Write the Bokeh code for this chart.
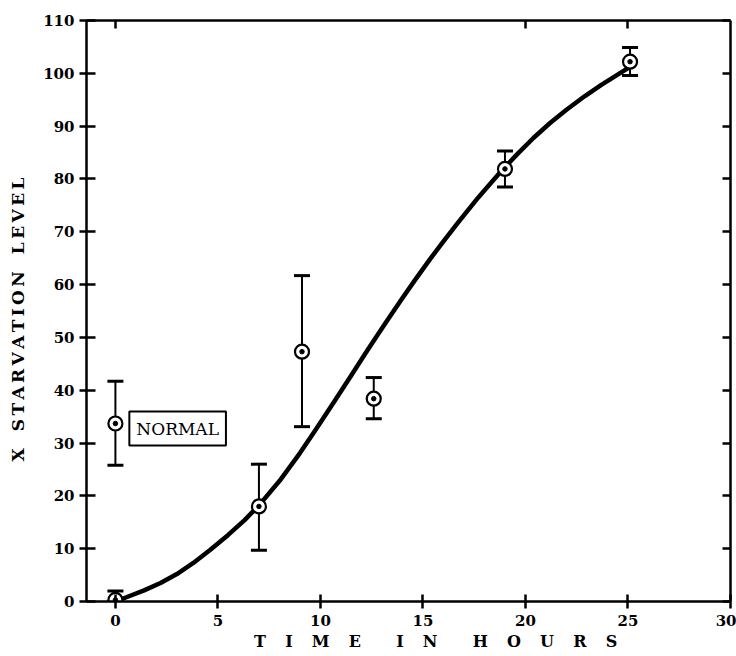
from bokeh.plotting import figure
from bokeh.models import (LinearAxis, FixedTicker, Whisker, ColumnDataSource,
                          Label, Range1d, TeeHead)
from bokeh.embed import file_html
from bokeh.resources import INLINE

# ---- data ----
obs_time = [0.0, 7.0, 9.1, 12.6, 19.0, 25.1]
obs_level = [0.3, 18.0, 47.3, 38.4, 81.9, 102.2]
obs_upper = [2.0, 26.0, 61.7, 42.4, 85.3, 104.9]
obs_lower = [0.0, 9.7, 33.1, 34.6, 78.5, 99.6]

normal_time = [0.0]
normal_level = [33.7]
normal_upper = [41.7]
normal_lower = [25.8]

curve_time = [0.0, 0.6, 1.4, 2.2, 3.0, 3.8, 4.6, 5.5, 6.3, 7.0, 8.0, 9.0, 9.8,
              10.7, 11.5, 12.3, 13.1, 13.9, 14.6, 15.4, 16.0, 16.7, 17.7,
              18.8, 19.6, 20.4, 21.2, 22.0, 22.9, 23.7, 24.4, 25.0]
curve_level = [0.0, 0.9, 2.1, 3.5, 5.2, 7.3, 9.7, 12.6, 15.4, 18.2, 22.8, 28.1,
               32.7, 38.0, 42.8, 47.6, 52.3, 56.9, 60.8, 65.1, 68.2, 71.7, 76.5,
               81.4, 84.7, 87.8, 90.6, 93.1, 95.7, 97.8, 99.5, 101.0]

x_ticks = [0, 5, 10, 15, 20, 25, 30]
y_ticks = [0, 10, 20, 30, 40, 50, 60, 70, 80, 90, 100, 110]
top_ticks = [0, 20, 25]

x_title = "\u2003\u2003\u2003\u2009\u2009T\u2003\u2009I\u2003\u2009M\u2003\u2009E\u2003\u2003\u2009I\u2003\u2009N\u2003\u2003\u2009H\u2003\u2009O\u2003\u2009U\u2003\u2009R\u2003\u2009S"
y_title = "X\u2003S\u2009T\u2009A\u2009R\u2009V\u2009A\u2009T\u2009I\u2009O\u2009N\u2003L\u2009E\u2009V\u2009E\u2009L\u2003"
normal_text = "NORMAL"

FONT = "DejaVu Serif"

p = figure(width=736, height=656, output_backend="svg", toolbar_location=None,
           x_range=Range1d(-1.41, 30), y_range=Range1d(0, 110),
           x_axis_location=None, y_axis_location=None,
           min_border_left=86, min_border_right=6, min_border_top=20,
           min_border_bottom=55)
p.background_fill_color = "white"
p.border_fill_color = "white"
p.outline_line_color = None
p.xgrid.visible = False
p.ygrid.visible = False

AX_W = 2.5


def style_axis(ax):
    ax.axis_line_width = AX_W
    ax.axis_line_color = "black"
    ax.major_tick_line_width = AX_W
    ax.major_tick_line_color = "black"
    ax.minor_tick_line_color = None
    ax.major_label_text_font = FONT
    ax.major_label_text_font_style = "bold"
    ax.major_label_text_font_size = "15px"
    ax.major_label_text_color = "black"
    ax.axis_label_text_font = FONT
    ax.axis_label_text_font_style = "bold"
    ax.axis_label_text_color = "black"


bottom = LinearAxis(ticker=FixedTicker(ticks=x_ticks))
style_axis(bottom)
bottom.major_tick_in = 7
bottom.major_tick_out = 7
bottom.major_label_standoff = 6
bottom.axis_label = x_title
bottom.axis_label_text_font_size = "16px"
bottom.axis_label_standoff = 3
p.add_layout(bottom, "below")

left = LinearAxis(ticker=FixedTicker(ticks=y_ticks))
style_axis(left)
left.major_tick_in = 9
left.major_tick_out = 7
left.major_label_standoff = 5
left.axis_label = y_title
left.axis_label_text_font_size = "17px"
left.axis_label_standoff = 12
p.add_layout(left, "left")

top = LinearAxis(ticker=FixedTicker(ticks=top_ticks))
style_axis(top)
top.major_tick_in = 8
top.major_tick_out = 0
top.major_label_text_font_size = "1px"
top.major_label_text_color = None
top.major_label_standoff = 0
p.add_layout(top, "above")

right = LinearAxis(ticker=FixedTicker(ticks=y_ticks))
style_axis(right)
right.major_tick_in = 8
right.major_tick_out = 0
right.major_label_text_font_size = "1px"
right.major_label_text_color = None
right.major_label_standoff = 0
p.add_layout(right, "right")

# fitted curve
p.line(curve_time, curve_level, line_width=4.5, line_color="black",
       line_join="round", line_cap="round")

# error bars
src = ColumnDataSource(dict(t=obs_time + normal_time,
                            lvl=obs_level + normal_level,
                            up=obs_upper + normal_upper,
                            lo=obs_lower + normal_lower))
wh = Whisker(source=src, base="t", upper="up", lower="lo", dimension="height",
             line_width=2, line_color="black",
             upper_head=TeeHead(size=16, line_width=3, line_color="black"),
             lower_head=TeeHead(size=16, line_width=3, line_color="black"))
p.add_layout(wh)

# circle-with-dot markers
p.scatter("t", "lvl", source=src, marker="circle", size=14,
          fill_color="white", line_color="black", line_width=2.2)
p.scatter("t", "lvl", source=src, marker="circle", size=4.5,
          fill_color="black", line_color="black")

# NORMAL box
lab = Label(x=0.68, y=32.75, text=normal_text, text_font=FONT,
            text_font_size="17px", text_color="black",
            text_align="left", text_baseline="middle",
            border_line_color="black", border_line_width=2,
            background_fill_color="white", padding=7)
p.add_layout(lab)

open("out.html", "w").write(file_html(p, INLINE))
